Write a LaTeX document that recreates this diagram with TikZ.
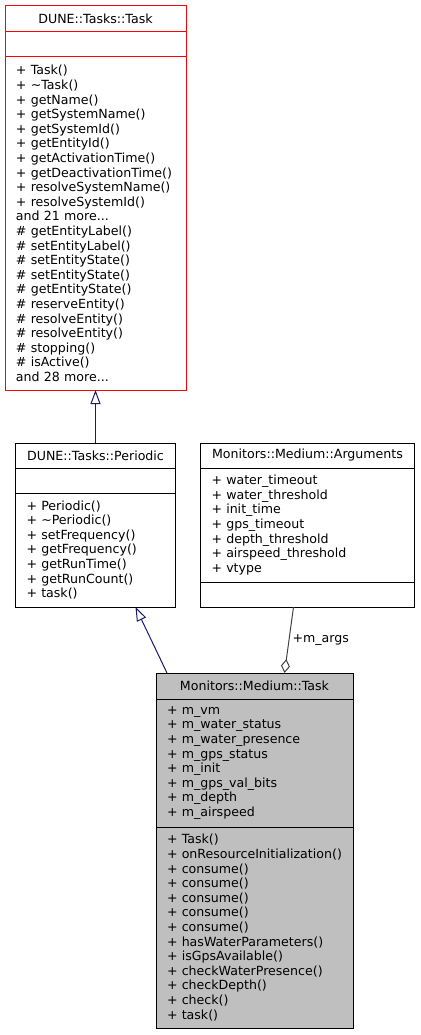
\documentclass[tikz,border=0pt]{standalone}
\usepackage{fontspec}
\setmainfont{DejaVu Sans}
\usetikzlibrary{positioning,arrows.meta}
\definecolor{basered}{HTML}{FF0000}
\definecolor{inhblue}{HTML}{191970}
\definecolor{aggrey}{HTML}{404040}
\definecolor{curgrey}{HTML}{BFBFBF}

\begin{document}
\begin{tikzpicture}[x=1pt, y=-1pt, line width=1pt,
      font=\fontsize{12.6}{14.6}\selectfont,
      head/.style={draw, outer sep=0pt, inner xsep=11pt, inner ysep=0pt, align=center, minimum height=25pt},
      body/.style={draw, outer sep=0pt, inner xsep=11pt, inner ysep=0pt, align=left, minimum height=25pt},
      inherit/.style={draw=inhblue, -{Triangle[open, length=14pt, width=10pt]}},
      aggreg/.style={draw=aggrey, {Diamond[open, length=14pt, width=9pt]}-},
      node distance=0pt]
    \useasboundingbox (0,0) rectangle (420,1035);
    % DUNE::Tasks::Task
    \node[head, draw=basered, text width=159pt, minimum height=26pt, anchor=north west] (task-t) at (5,6) {DUNE::Tasks::Task};
    \node[body, draw=basered, text width=159pt, below=of task-t] (task-a) {};
    \node[body, draw=basered, text width=159pt, minimum height=333pt, below=of task-a] (task-m)
      {+ Task()\\ + \textasciitilde Task()\\ + getName()\\ + getSystemName()\\ + getSystemId()\\
       + getEntityId()\\ + getActivationTime()\\ + getDeactivationTime()\\ + resolveSystemName()\\
       + resolveSystemId()\\ and 21 more...\\ \# getEntityLabel()\\ \# setEntityLabel()\\
       \# setEntityState()\\ \# setEntityState()\\ \# getEntityState()\\ \# reserveEntity()\\
       \# resolveEntity()\\ \# resolveEntity()\\ \# stopping()\\ \# isActive()\\ and 28 more...};
    % DUNE::Tasks::Periodic
    \node[head, text width=138pt, below=53pt of task-m] (per-t) {DUNE::Tasks::Periodic};
    \node[body, text width=138pt, below=of per-t] (per-a) {};
    \node[body, text width=138pt, minimum height=114pt, below=of per-a] (per-m)
      {+ Periodic()\\ + \textasciitilde Periodic()\\ + setFrequency()\\ + getFrequency()\\
       + getRunTime()\\ + getRunCount()\\ + task()};
    % Monitors::Medium::Arguments
    \node[head, text width=192pt, right=25pt of per-t] (args-t) {Monitors::Medium::Arguments};
    \node[body, text width=192pt, minimum height=114pt, below=of args-t] (args-a)
      {+ water\_timeout\\ + water\_threshold\\ + init\_time\\ + gps\_timeout\\
       + depth\_threshold\\ + airspeed\_threshold\\ + vtype};
    \node[body, text width=192pt, below=of args-a] (args-m) {};
    % Monitors::Medium::Task
    \node[head, fill=curgrey, text width=175pt, minimum height=26pt, anchor=north west] (med-t) at (156,673) {Monitors::Medium::Task};
    \node[body, fill=curgrey, text width=175pt, minimum height=128pt, below=of med-t] (med-a)
      {+ m\_vm\\ + m\_water\_status\\ + m\_water\_presence\\ + m\_gps\_status\\ + m\_init\\
       + m\_gps\_val\_bits\\ + m\_depth\\ + m\_airspeed};
    \node[body, fill=curgrey, text width=175pt, minimum height=201pt, below=of med-a] (med-m)
      {+ Task()\\ + onResourceInitialization()\\ + consume()\\ + consume()\\ + consume()\\
       + consume()\\ + consume()\\ + hasWaterParameters()\\ + isGpsAvailable()\\
       + checkWaterPresence()\\ + checkDepth()\\ + check()\\ + task()};
    % relations
    \draw[inherit] (per-t.north) -- (task-m.south);
    \draw[inherit] ([xshift=11pt]med-t.north west) -- ([xshift=40pt]per-m.south);
    \draw[aggreg] ([xshift=30pt]med-t.north) -- node[midway, right, inner sep=3pt] (args-lbl) {+m\_args} ([xshift=-14pt]args-m.south);
  \end{tikzpicture}
\end{document}
